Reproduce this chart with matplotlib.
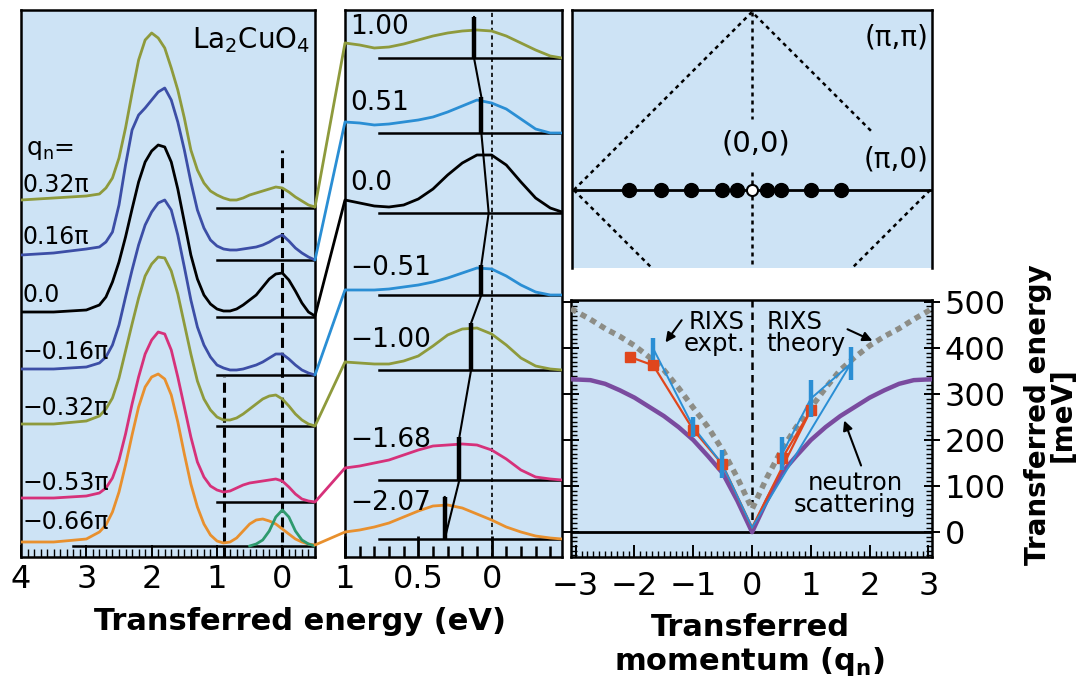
import numpy as np
import matplotlib
matplotlib.use("Agg")
import matplotlib.pyplot as plt
from matplotlib.patches import ConnectionPatch
from matplotlib.ticker import MultipleLocator, FixedLocator, NullLocator, FixedFormatter

plt.rcParams['font.family'] = ['DejaVu Sans']
plt.rcParams['axes.linewidth'] = 1.8

BG = '#cde3f5'
OLIVE = '#8e9a3c'
DBLUE = '#3c4ea6'
LBLUE = '#2a8ed4'
MAGENTA = '#d6317a'
ORANGE = '#e8902e'
GREEN = '#2e9a6e'
PURPLE = '#7a4b9f'
GRAY = '#8d8d86'
RED = '#e0461c'

# ---------------- full spectra (transferred energy, eV; intensity, arb. units)
energy_wide = [4.0, 3.5, 3.0, 2.8, 2.7, 2.6, 2.5, 2.4, 2.3, 2.2, 2.1, 2.0, 1.9,
               1.8, 1.7, 1.6, 1.5, 1.4, 1.3, 1.2, 1.1, 1.0, 0.9, 0.8, 0.7, 0.6,
               0.5, 0.4, 0.3, 0.2, 0.1, 0.0, -0.1, -0.2, -0.3, -0.4, -0.5]
wide_labels = ['0.32π', '0.16π', '0.0', '−0.16π', '−0.32π', '−0.53π', '−0.66π']
wide_p032 = [8, 10, 12, 14, 20, 30, 50, 80, 115, 148, 168, 175, 170, 160, 140, 118, 90, 58, 38,
             25, 17, 13, 10, 8, 8, 10, 13, 15, 17, 19, 21, 20, 16, 11, 7, 3, 1]
wide_p016 = [5, 7, 11, 13, 18, 28, 55, 95, 130, 145, 152, 160, 168, 172, 160, 138, 110, 78, 50,
             32, 20, 14, 11, 10, 10, 11, 12, 13, 15, 18, 22, 25, 19, 12, 7, 3, 0]
wide_0 = [5, 5, 7, 12, 20, 35, 55, 80, 108, 135, 155, 166, 172, 170, 155, 128, 95, 62, 38,
          22, 13, 8, 6, 6, 8, 12, 17, 22, 30, 38, 43, 44, 37, 26, 14, 5, 1]
wide_m016 = [6, 6, 8, 12, 18, 30, 50, 78, 105, 130, 150, 163, 172, 175, 165, 140, 108, 75, 48,
             30, 18, 10, 7, 5, 5, 6, 8, 10, 13, 17, 21, 21, 16, 10, 5, 2, 0]
wide_m032 = [2, 2, 5, 10, 17, 28, 48, 75, 102, 128, 150, 162, 169, 168, 155, 132, 102, 72, 45,
             27, 16, 9, 6, 6, 8, 12, 17, 22, 27, 30, 31, 27, 20, 12, 6, 2, 0]
wide_m053 = [4, 4, 6, 9, 14, 24, 42, 68, 98, 125, 148, 162, 170, 168, 152, 125, 95, 65, 40,
             25, 16, 12, 10, 11, 14, 17, 19, 20, 21, 22, 23, 21, 15, 8, 3, 1, 0]
wide_m066 = [4, 4, 7, 14, 21, 34, 54, 81, 111, 139, 159, 169, 172, 167, 151, 124, 92, 62, 39,
             22, 11, 5, 3, 4, 8, 15, 22, 26, 27, 25, 22, 17, 12, 7, 4, 2, 1]
elastic_energy = [0.5, 0.4, 0.3, 0.2, 0.1, 0.0, -0.1, -0.2, -0.3, -0.4, -0.5]
elastic_m066 = [0, 2, 6, 15, 29, 36, 29, 15, 6, 2, 0]

# ---------------- low-energy spectra
energy_zoom = [1.0, 0.9, 0.8, 0.7, 0.6, 0.5, 0.4, 0.3, 0.2, 0.1, 0.0, -0.1, -0.2, -0.3, -0.4, -0.48]
zoom_labels = ['1.00', '0.51', '0.0', '−0.51', '−1.00', '−1.68', '−2.07']
zoom_100 = [15, 13, 10, 11, 14, 18, 22, 25, 27, 28, 27, 22, 15, 8, 2, 0]
zoom_051 = [11, 10, 8, 9, 11, 13, 16, 21, 27, 33, 30, 24, 14, 4, 0, 0]
zoom_0 = [13, 10, 7, 6, 8, 14, 24, 38, 50, 58, 58, 48, 31, 15, 5, 1]
zoom_m051 = [5, 5, 5, 6, 8, 10, 13, 17, 22, 27, 26, 19, 10, 3, 0, 0]
zoom_m100 = [8, 7, 6, 6, 9, 14, 24, 35, 41, 42, 36, 25, 12, 4, 1, 0]
zoom_m168 = [12, 14, 17, 20, 25, 30, 34, 35, 36, 35, 30, 21, 10, 3, 1, 0]
zoom_m207 = [7, 9, 12, 16, 22, 28, 33, 34, 31, 25, 19, 12, 7, 3, 1, 0]
peak_energy = [0.12, 0.07, 0.02, 0.07, 0.14, 0.22, 0.32]
peak_height = [41, 36, 0, 30, 47, 43, 42]

# ---------------- Brillouin zone: sampled momenta along (0,0)-(pi,0), units of pi
bz_q_filled = [-0.69, -0.51, -0.34, -0.17, -0.085, 0.085, 0.16, 0.33, 0.50]
bz_q_open = [0.0]

# ---------------- dispersion (momentum q_n, energy meV)
disp_q = [-3.08, -2.75, -2.5, -2.25, -2.0, -1.75, -1.5, -1.25, -1.0, -0.75, -0.5, -0.25, 0.0,
          0.25, 0.5, 0.75, 1.0, 1.25, 1.5, 1.75, 2.0, 2.25, 2.5, 2.75, 3.06]
neutron_E = [332, 330, 322, 308, 292, 272, 252, 228, 200, 165, 128, 68, 0,
             68, 128, 165, 200, 228, 252, 272, 292, 308, 322, 330, 332]
theory_E = [485, 462, 442, 425, 405, 380, 352, 313, 270, 228, 178, 118, 50,
            118, 178, 228, 270, 313, 352, 380, 405, 425, 442, 462, 485]
expt_q = [-1.68, -1.00, -0.51, 0.51, 1.00, 1.68]
expt_E = [398, 228, 148, 170, 290, 366]
expt_err = [24, 22, 30, 36, 40, 36]
fit_q = [-2.07, -1.68, -1.00, -0.51, 0.51, 1.00]
fit_E = [380, 362, 222, 148, 160, 265]
origin_E = 10

W, H = 1078, 682
fig = plt.figure(figsize=(W / 100, H / 100), dpi=100)


def frac(x0, y0, x1, y1):
    return [x0 / W, 1 - y1 / H, (x1 - x0) / W, (y1 - y0) / H]


TICK_FS = 23
TITLE_FS = 22

# ======================= left panel =======================
ax1 = fig.add_axes(frac(21, 10, 315, 557))
ax1.set_facecolor(BG)
ax1.set_xlim(4.0, -0.5)
ax1.set_ylim(0, 5.47)
wide_spectra = [wide_p032, wide_p016, wide_0, wide_m016, wide_m032, wide_m053, wide_m066]
wide_colors = [OLIVE, DBLUE, 'black', DBLUE, OLIVE, MAGENTA, ORANGE]
wide_offsets = [3.49, 2.97, 2.40, 1.82, 1.31, 0.55, 0.11]
wide_label_y = [3.72, 3.20, 2.62, 2.05, 1.49, 0.74, 0.35]
for i, (spec, col, off, lab, ly) in enumerate(zip(wide_spectra, wide_colors, wide_offsets,
                                                  wide_labels, wide_label_y)):
    start = 3.2 if i == len(wide_spectra) - 1 else 1.0
    ax1.plot([start, -0.5], [off, off], color='black', lw=1.8, zorder=2)
    ax1.plot(energy_wide, off + 0.01 * np.array(spec), color=col, lw=2, zorder=3)
    ax1.text(3.97, ly, lab, fontsize=17, ha='left', va='center', zorder=4)
ax1.plot(elastic_energy, wide_offsets[-1] + 0.01 * np.array(elastic_m066), color=GREEN, lw=2, zorder=3)
ax1.plot([0, 0], [0, 4.07], color='black', lw=2.2, dashes=(3.3, 1.6), zorder=2)
ax1.plot([0.9, 0.9], [0, 1.80], color='black', lw=2.2, dashes=(3.3, 1.6), zorder=2)
ax1.text(3.93, 4.07, 'q$_\\mathregular{n}$=', fontsize=18, ha='left', va='center')
ax1.text(-0.43, 5.17, 'La$_\\mathregular{2}$CuO$_\\mathregular{4}$', fontsize=20, ha='right', va='center')
ax1.xaxis.set_major_locator(FixedLocator([4, 3, 2, 1, 0]))
ax1.xaxis.set_minor_locator(MultipleLocator(0.1))
ax1.yaxis.set_major_locator(NullLocator())
ax1.tick_params(axis='x', which='major', direction='in', length=9, width=1.4,
                labelsize=TICK_FS, pad=5)
ax1.tick_params(axis='x', which='minor', direction='in', length=6, width=1.0)

# ======================= middle panel =======================
ax2 = fig.add_axes(frac(345, 10, 562, 557))
ax2.set_facecolor(BG)
ax2.set_xlim(1.0, -0.48)
ax2.set_ylim(0, 5.47)
zoom_spectra = [zoom_100, zoom_051, zoom_0, zoom_m051, zoom_m100, zoom_m168, zoom_m207]
zoom_colors = [OLIVE, LBLUE, 'black', LBLUE, OLIVE, MAGENTA, ORANGE]
zoom_offsets = [4.99, 4.24, 3.44, 2.62, 1.87, 0.77, 0.18]
zoom_label_y = [5.30, 4.54, 3.74, 2.89, 2.17, 1.17, 0.54]
for spec, col, off, lab, ly in zip(zoom_spectra, zoom_colors, zoom_offsets, zoom_labels, zoom_label_y):
    ax2.plot([0.77, -0.48], [off, off], color='black', lw=1.8, zorder=2)
    ax2.plot(energy_zoom, off + 0.01 * np.array(spec), color=col, lw=2, zorder=3)
    ax2.text(0.965, ly, lab, fontsize=19, ha='left', va='center', zorder=4)
ax2.plot([0, 0], [0, 5.47], color='black', lw=1.2, dashes=(2.5, 2), zorder=2)

# peak-position track
track_x, track_y = [], []
last = len(peak_energy) - 1
for i, (e, h, off) in enumerate(zip(peak_energy, peak_height, zoom_offsets)):
    top = off + 0.01 * h
    pts = [(e, top), (e, off)] if i < last else [(e, off), (e, top)]
    for px, py in pts:
        track_x.append(px)
        track_y.append(py)
    if h > 0:
        ax2.plot([e, e], [off, top], color='black', lw=3.2, zorder=5, solid_capstyle='butt')
ax2.plot(track_x, track_y, color='black', lw=1.5, zorder=5)

ax2.xaxis.set_major_locator(FixedLocator([1, 0.5, 0]))
ax2.xaxis.set_major_formatter(FixedFormatter(['1', '0.5', '0']))
ax2.xaxis.set_minor_locator(MultipleLocator(0.1))
ax2.yaxis.set_major_locator(NullLocator())
ax2.tick_params(axis='x', which='major', direction='in', length=15, width=2,
                labelsize=TICK_FS, pad=5)
ax2.tick_params(axis='x', which='minor', direction='in', length=8, width=1.8)

# connectors between the two energy windows
for spec_w, off_w, spec_z, off_z, col in zip(wide_spectra, wide_offsets, zoom_spectra,
                                             zoom_offsets, zoom_colors):
    con = ConnectionPatch(xyA=(-0.5, off_w + 0.01 * spec_w[-1]), coordsA=ax1.transData,
                          xyB=(1.0, off_z + 0.01 * spec_z[0]), coordsB=ax2.transData,
                          color=col, lw=2)
    fig.add_artist(con)

# ======================= Brillouin zone =======================
ax3 = fig.add_axes(frac(572, 10, 932, 268))
ax3.set_facecolor(BG)
ax3.set_xlim(-1.01, 1.01)
ax3.set_ylim(-0.438, 1.011)
ax3.set_xticks([])
ax3.set_yticks([])
ax3.spines['bottom'].set_visible(False)
dot_style = dict(color='black', lw=1.8, linestyle=(0, (1.6, 1.6)))
ax3.plot([-1, 0, 0.68], [0, 1, 0.32], **dot_style)
ax3.plot([-1, -0.56], [0, -0.44], **dot_style)
ax3.plot([1, 0.56], [0, -0.44], **dot_style)
ax3.plot([0, 0], [1, 0.40], **dot_style)
ax3.plot([0, 0], [0.10, -0.44], **dot_style)
ax3.plot([-1.01, 1.01], [0, 0], color='black', lw=2, zorder=3)
ax3.plot(bz_q_filled, np.zeros(len(bz_q_filled)), 'o', color='black', ms=10, zorder=4)
ax3.plot(bz_q_open, np.zeros(len(bz_q_open)), 'o', mfc='white', mec='black', mew=1.5, ms=8, zorder=4)
ax3.text(0.99, 0.854, '(π,π)', fontsize=20, ha='right', va='center')
ax3.text(0.99, 0.169, '(π,0)', fontsize=20, ha='right', va='center')
ax3.text(0.02, 0.264, '(0,0)', fontsize=21, ha='center', va='center')

# ======================= dispersion =======================
ax4 = fig.add_axes(frac(571, 300, 932, 557))
ax4.set_facecolor(BG)
ax4.set_xlim(-3.08, 3.06)
ax4.set_ylim(-54, 504)
ax4.axhline(0, color='black', lw=2, zorder=2)
ax4.plot([0, 0], [0, 504], color='black', lw=1.8, dashes=(3, 2), zorder=2)
ax4.plot(disp_q, neutron_E, color=PURPLE, lw=3.2, zorder=3)
ax4.plot(disp_q, theory_E, color=GRAY, lw=4, linestyle=(0, (1.1, 0.9)), zorder=4)
left_fit = [(q, e) for q, e in zip(fit_q, fit_E) if q < 0]
right_fit = [(q, e) for q, e in zip(fit_q, fit_E) if q > 0]
for side in (left_fit, right_fit):
    qs = [p[0] for p in side] + [0.0]
    es = [p[1] for p in side] + [origin_E]
    ax4.plot(qs, es, color=RED, lw=1.6, zorder=5)
left_exp = [(q, e) for q, e in zip(expt_q, expt_E) if q < 0]
right_exp = [(q, e) for q, e in zip(expt_q, expt_E) if q > 0]
for side in (left_exp, right_exp):
    qs = [p[0] for p in side] + [0.0]
    es = [p[1] for p in side] + [origin_E]
    ax4.plot(qs, es, color=LBLUE, lw=1.4, zorder=5)
ax4.plot(fit_q, fit_E, 's', color=RED, ms=7, zorder=6)
ax4.errorbar(expt_q, expt_E, yerr=expt_err, fmt='none', ecolor=LBLUE, elinewidth=3.2, zorder=7)

ax4.text(-0.12, 433, 'RIXS\nexpt.', fontsize=17.5, ha='right', va='center', linespacing=0.9)
ax4.text(0.25, 433, 'RIXS\ntheory', fontsize=17.5, ha='left', va='center', linespacing=0.9)
ax4.text(1.75, 83, 'neutron\nscattering', fontsize=17.5, ha='center', va='center', linespacing=0.9)
arrow = dict(arrowstyle='-|>', color='black', lw=1.5, mutation_scale=14)
ax4.annotate('', xy=(-1.50, 407), xytext=(-1.17, 465), arrowprops=arrow)
ax4.annotate('', xy=(2.09, 413), xytext=(1.58, 443), arrowprops=arrow)
ax4.annotate('', xy=(1.55, 248), xytext=(1.87, 139), arrowprops=arrow)

ax4.xaxis.set_major_locator(MultipleLocator(1))
ax4.xaxis.set_minor_locator(MultipleLocator(0.1))
ax4.yaxis.set_major_locator(FixedLocator([0, 100, 200, 300, 400, 500]))
ax4.yaxis.set_minor_locator(MultipleLocator(10))
ax4.yaxis.tick_right()
ax4.tick_params(axis='x', which='major', direction='in', length=9, width=1.4,
                labelsize=TICK_FS, pad=10)
ax4.tick_params(axis='x', which='minor', direction='in', length=4, width=1.0)
ax4.tick_params(axis='y', which='major', direction='inout', length=12, width=1.4,
                labelsize=TICK_FS, left=True, right=True, labelleft=False, labelright=True, pad=3)
ax4.tick_params(axis='y', which='minor', direction='in', length=4, width=1.0, left=True, right=True)

# ======================= axis titles =======================
fig.text(300 / W, 1 - 621 / H, 'Transferred energy (eV)', fontsize=TITLE_FS, fontweight='bold',
         ha='center', va='center')
fig.text(750 / W, 1 - 627 / H, 'Transferred', fontsize=TITLE_FS, fontweight='bold',
         ha='center', va='center')
fig.text(750 / W, 1 - 662 / H, 'momentum (q$_\\mathbf{n}$)', fontsize=TITLE_FS, fontweight='bold',
         ha='center', va='center')
fig.text(1050 / W, 1 - 415 / H, 'Transferred energy\n[meV]', fontsize=20, fontweight='bold',
         rotation=90, ha='center', va='center', multialignment='center', linespacing=0.85)

fig.savefig('out.png', dpi=100)
